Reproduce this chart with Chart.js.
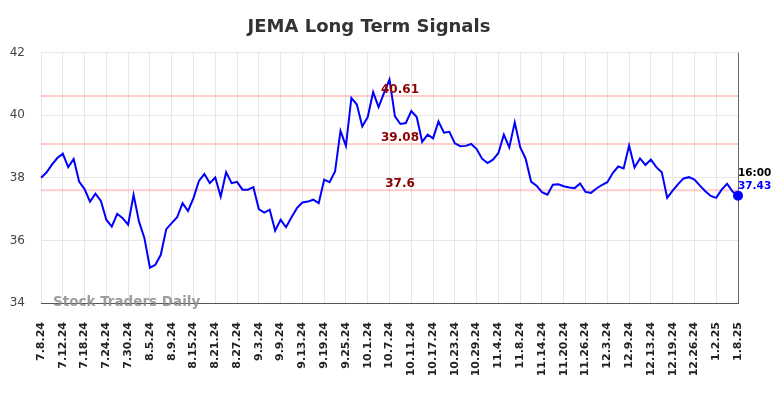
<!DOCTYPE html>
<html>
<head>
<meta charset="utf-8">
<script src="https://cdn.jsdelivr.net/npm/chart.js@4"></script>
<style>
    html, body { margin: 0; padding: 0; background: #fff; }
    #box { width: 784px; height: 398px; }
</style>
</head>
<body>
<div id="box"><canvas id="myChart" width="784" height="398"></canvas></div>
<script>
// trading days, every 4th one gets a label on the axis
const dates = [
    '7.8.24','7.9.24','7.10.24','7.11.24','7.12.24','7.15.24','7.16.24','7.17.24','7.18.24','7.19.24',
    '7.22.24','7.23.24','7.24.24','7.25.24','7.26.24','7.29.24','7.30.24','7.31.24',
    '8.1.24','8.2.24','8.5.24','8.6.24','8.7.24','8.8.24','8.9.24','8.12.24','8.13.24','8.14.24',
    '8.15.24','8.16.24','8.19.24','8.20.24','8.21.24','8.22.24','8.23.24','8.26.24','8.27.24',
    '8.28.24','8.29.24','8.30.24',
    '9.3.24','9.4.24','9.5.24','9.6.24','9.9.24','9.10.24','9.11.24','9.12.24','9.13.24','9.16.24',
    '9.17.24','9.18.24','9.19.24','9.20.24','9.23.24','9.24.24','9.25.24','9.26.24','9.27.24','9.30.24',
    '10.1.24','10.2.24','10.3.24','10.4.24','10.7.24','10.8.24','10.9.24','10.10.24','10.11.24',
    '10.14.24','10.15.24','10.16.24','10.17.24','10.18.24','10.21.24','10.22.24','10.23.24',
    '10.24.24','10.25.24','10.28.24','10.29.24','10.30.24','10.31.24',
    '11.1.24','11.4.24','11.5.24','11.6.24','11.7.24','11.8.24','11.11.24','11.12.24','11.13.24',
    '11.14.24','11.15.24','11.18.24','11.19.24','11.20.24','11.21.24','11.22.24','11.25.24',
    '11.26.24','11.27.24','11.29.24',
    '12.2.24','12.3.24','12.4.24','12.5.24','12.6.24','12.9.24','12.10.24','12.11.24','12.12.24',
    '12.13.24','12.16.24','12.17.24','12.18.24','12.19.24','12.20.24','12.23.24','12.24.24',
    '12.26.24','12.27.24','12.30.24','12.31.24',
    '1.2.25','1.3.25','1.6.25','1.7.25','1.8.25'
];

const prices = [
    38.00, 38.17, 38.42, 38.63, 38.77, 38.34, 38.60, 37.88, 37.64, 37.24,
    37.49, 37.26, 36.66, 36.44, 36.85, 36.71, 36.50, 37.46, 36.60, 36.07,
    35.13, 35.22, 35.54, 36.36, 36.55, 36.74, 37.19, 36.94, 37.35, 37.90,
    38.12, 37.83, 38.01, 37.40, 38.18, 37.83, 37.87, 37.62, 37.62, 37.70,
    37.00, 36.89, 36.98, 36.31, 36.66, 36.42, 36.74, 37.03, 37.21, 37.24,
    37.30, 37.19, 37.94, 37.86, 38.20, 39.50, 39.02, 40.55, 40.34, 39.64,
    39.94, 40.74, 40.26, 40.71, 41.14, 39.96, 39.72, 39.75, 40.13, 39.94,
    39.15, 39.38, 39.26, 39.80, 39.44, 39.47, 39.10, 39.01, 39.02, 39.08,
    38.92, 38.61, 38.47, 38.58, 38.79, 39.38, 38.97, 39.77, 38.98, 38.61,
    37.88, 37.75, 37.54, 37.46, 37.78, 37.79, 37.73, 37.69, 37.67, 37.82,
    37.55, 37.52, 37.66, 37.77, 37.86, 38.15, 38.36, 38.30, 39.03, 38.33,
    38.62, 38.41, 38.58, 38.34, 38.18, 37.36, 37.59, 37.80, 37.98, 38.02,
    37.94, 37.75, 37.57, 37.42, 37.36, 37.62, 37.81, 37.56, 37.43
];

// signal levels
const levels = [40.61, 39.08, 37.6];
const yTicks = [34, 36, 38, 40, 42];
const labelEvery = 4;
const lastTime = '16:00';

const lastIdx = prices.length - 1;

// draws signal lines, their labels, watermark and last price
const overlay = {
    id: 'overlay',
    beforeDatasetsDraw(chart) {
        const {ctx, chartArea, scales} = chart;
        ctx.save();
        ctx.strokeStyle = 'rgba(255,0,0,0.2)';
        ctx.lineWidth = 2;
        levels.forEach(v => {
            const y = scales.y.getPixelForValue(v);
            ctx.beginPath();
            ctx.moveTo(chartArea.left, y);
            ctx.lineTo(chartArea.right, y);
            ctx.stroke();
        });
        ctx.fillStyle = 'rgba(140,140,140,0.85)';
        ctx.font = 'bold 13.5px "DejaVu Sans"';
        ctx.textAlign = 'left';
        ctx.textBaseline = 'middle';
        ctx.fillText('Stock Traders Daily', chartArea.left + 12, chartArea.bottom - 1);
        ctx.restore();
    },
    afterDatasetsDraw(chart) {
        const {ctx, scales} = chart;
        ctx.save();
        ctx.font = 'bold 12px "DejaVu Sans"';
        ctx.fillStyle = '#8b0000';
        ctx.textAlign = 'center';
        ctx.textBaseline = 'bottom';
        levels.forEach(v => {
            const y = scales.y.getPixelForValue(v);
            ctx.fillText(String(v), 400, y);
        });
        const x = scales.x.getPixelForValue(lastIdx);
        const y = scales.y.getPixelForValue(prices[lastIdx]);
        ctx.textAlign = 'left';
        ctx.textBaseline = 'middle';
        ctx.font = 'bold 10.5px "DejaVu Sans"';
        ctx.fillStyle = '#000';
        ctx.fillText(lastTime, x, y - 22);
        ctx.fillStyle = '#0000ff';
        ctx.fillText(prices[lastIdx].toFixed(2), x, y - 9);
        ctx.restore();
    }
};

new Chart('myChart', {
    type: 'line',
    data: {
        datasets: [{
            data: prices.map((v, i) => ({ x: i, y: v })),
            borderColor: '#0000ff',
            backgroundColor: '#0000ff',
            borderWidth: 2,
            tension: 0,
            clip: false,
            pointRadius: (c) => c.dataIndex === lastIdx ? 4 : 0,
            pointHoverRadius: 0
        }]
    },
    options: {
        responsive: false,
        animation: false,
        layout: { padding: { left: 0, right: 46, top: 0, bottom: 0 } },
        plugins: {
            legend: { display: false },
            tooltip: { enabled: false },
            title: {
                display: true,
                text: 'JEMA Long Term Signals',
                color: '#333',
                font: { family: 'DejaVu Sans', size: 18, weight: 'bold' },
                padding: { top: 17, bottom: 14 }
            }
        },
        scales: {
            x: {
                type: 'linear',
                min: 0,
                max: lastIdx,
                afterFit: (s) => { s.height = 95; },
                afterBuildTicks: (s) => {
                    s.ticks = dates.map((d, i) => ({ value: i })).filter(t => t.value % labelEvery === 0);
                },
                grid: {
                    drawTicks: false,
                    color: (c) => c.tick && c.tick.value === lastIdx ? '#666' : '#e6e6e6'
                },
                border: { color: '#555', width: 1 },
                ticks: {
                    autoSkip: false,
                    maxRotation: 90,
                    minRotation: 90,
                    padding: 19,
                    color: '#222',
                    font: { family: 'DejaVu Sans', size: 11, weight: 'bold' },
                    callback: (v) => dates[v]
                }
            },
            y: {
                min: yTicks[0],
                max: yTicks[yTicks.length - 1],
                afterFit: (s) => { s.width = 41; },
                afterBuildTicks: (s) => { s.ticks = yTicks.map(v => ({ value: v })); },
                grid: { drawTicks: false, color: '#e6e6e6' },
                border: { display: false },
                ticks: {
                    padding: 16,
                    color: '#444',
                    font: { family: 'DejaVu Sans', size: 12 }
                }
            }
        }
    },
    plugins: [overlay]
});
</script>
</body>
</html>
